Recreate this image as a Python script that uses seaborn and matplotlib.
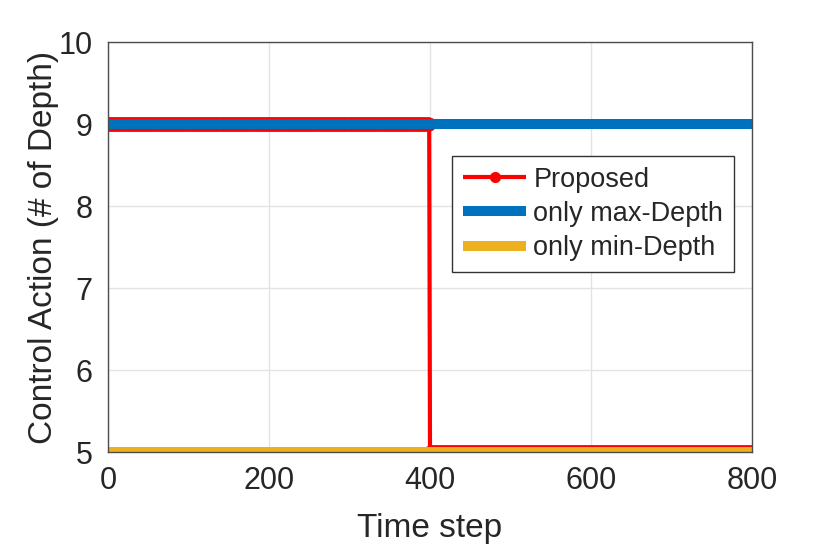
import numpy as np
import pandas as pd
import matplotlib
matplotlib.use("Agg")
import matplotlib.pyplot as plt
import seaborn as sns

# ---- data ----
time_steps = np.arange(0, 801)                 # time step grid 0..800
proposed_segment_values = [9, 5]               # Proposed action level per segment
proposed_segment_lengths = [400, 401]          # steps in each segment (switch at t=400)
max_depth_x = [0, 800]
max_depth_y = [9, 9]
min_depth_x = [0, 800]
min_depth_y = [5, 5]
x_ticks = [0, 200, 400, 600, 800]
y_ticks = [5, 6, 7, 8, 9, 10]

proposed = np.repeat(proposed_segment_values, proposed_segment_lengths)
df_prop = pd.DataFrame({"t": time_steps, "v": proposed})
df_max = pd.DataFrame({"t": max_depth_x, "v": max_depth_y})
df_min = pd.DataFrame({"t": min_depth_x, "v": min_depth_y})

sns.set_style("white")
plt.rcParams["font.family"] = ["Liberation Sans", "DejaVu Sans"]

fig = plt.figure(figsize=(8.30, 5.49), dpi=100)
ax = fig.add_axes([108 / 830, 1 - 452 / 549, 644 / 830, 410 / 549])

RED = "#FF0000"
BLUE = "#0072BD"
YELLOW = "#EDB120"

sns.lineplot(data=df_prop, x="t", y="v", ax=ax, color=RED, linewidth=3,
             marker="o", markersize=9, markeredgewidth=1, markeredgecolor=RED,
             estimator=None, sort=False, label="Proposed", zorder=3)
sns.lineplot(data=df_max, x="t", y="v", ax=ax, color=BLUE, linewidth=7.2,
             estimator=None, sort=False, label="only max-Depth", zorder=4,
             solid_capstyle="butt")
sns.lineplot(data=df_min, x="t", y="v", ax=ax, color=YELLOW, linewidth=7.2,
             estimator=None, sort=False, label="only min-Depth", zorder=4,
             solid_capstyle="butt")

ax.set_xlim(0, 800)
ax.set_ylim(5, 10)
ax.set_xticks(x_ticks)
ax.set_yticks(y_ticks)
ax.tick_params(axis="both", labelsize=22, colors="#262626", direction="in",
               length=5, width=0.8)
ax.tick_params(axis="x", pad=10)
ax.tick_params(axis="y", pad=11)
ax.grid(True, color="#E3E3E3", linewidth=1)
ax.set_axisbelow(True)
for s in ax.spines.values():
    s.set_color("#4D4D4D")
    s.set_linewidth(1)
    s.set_zorder(5)

ax.set_xlabel("Time step", fontsize=24, color="#262626", labelpad=12)
ax.set_ylabel("Control Action (# of Depth)", fontsize=24, color="#262626", labelpad=0)

leg = ax.legend(loc="upper right", bbox_to_anchor=(0.972, 0.722), borderaxespad=0,
                fontsize=19.5, frameon=True, fancybox=False, edgecolor="#333333",
                framealpha=1, handlelength=2.35, handletextpad=0.25,
                labelspacing=0.3, borderpad=0.4)
leg.get_frame().set_linewidth(1)
for h in leg.legend_handles:
    h.set_solid_capstyle("butt")
    if h.get_marker() not in (None, "None", ""):
        h.set_markersize(7)
        h.set_linewidth(3)
leg.set_zorder(6)

fig.savefig("out.png", dpi=100)
